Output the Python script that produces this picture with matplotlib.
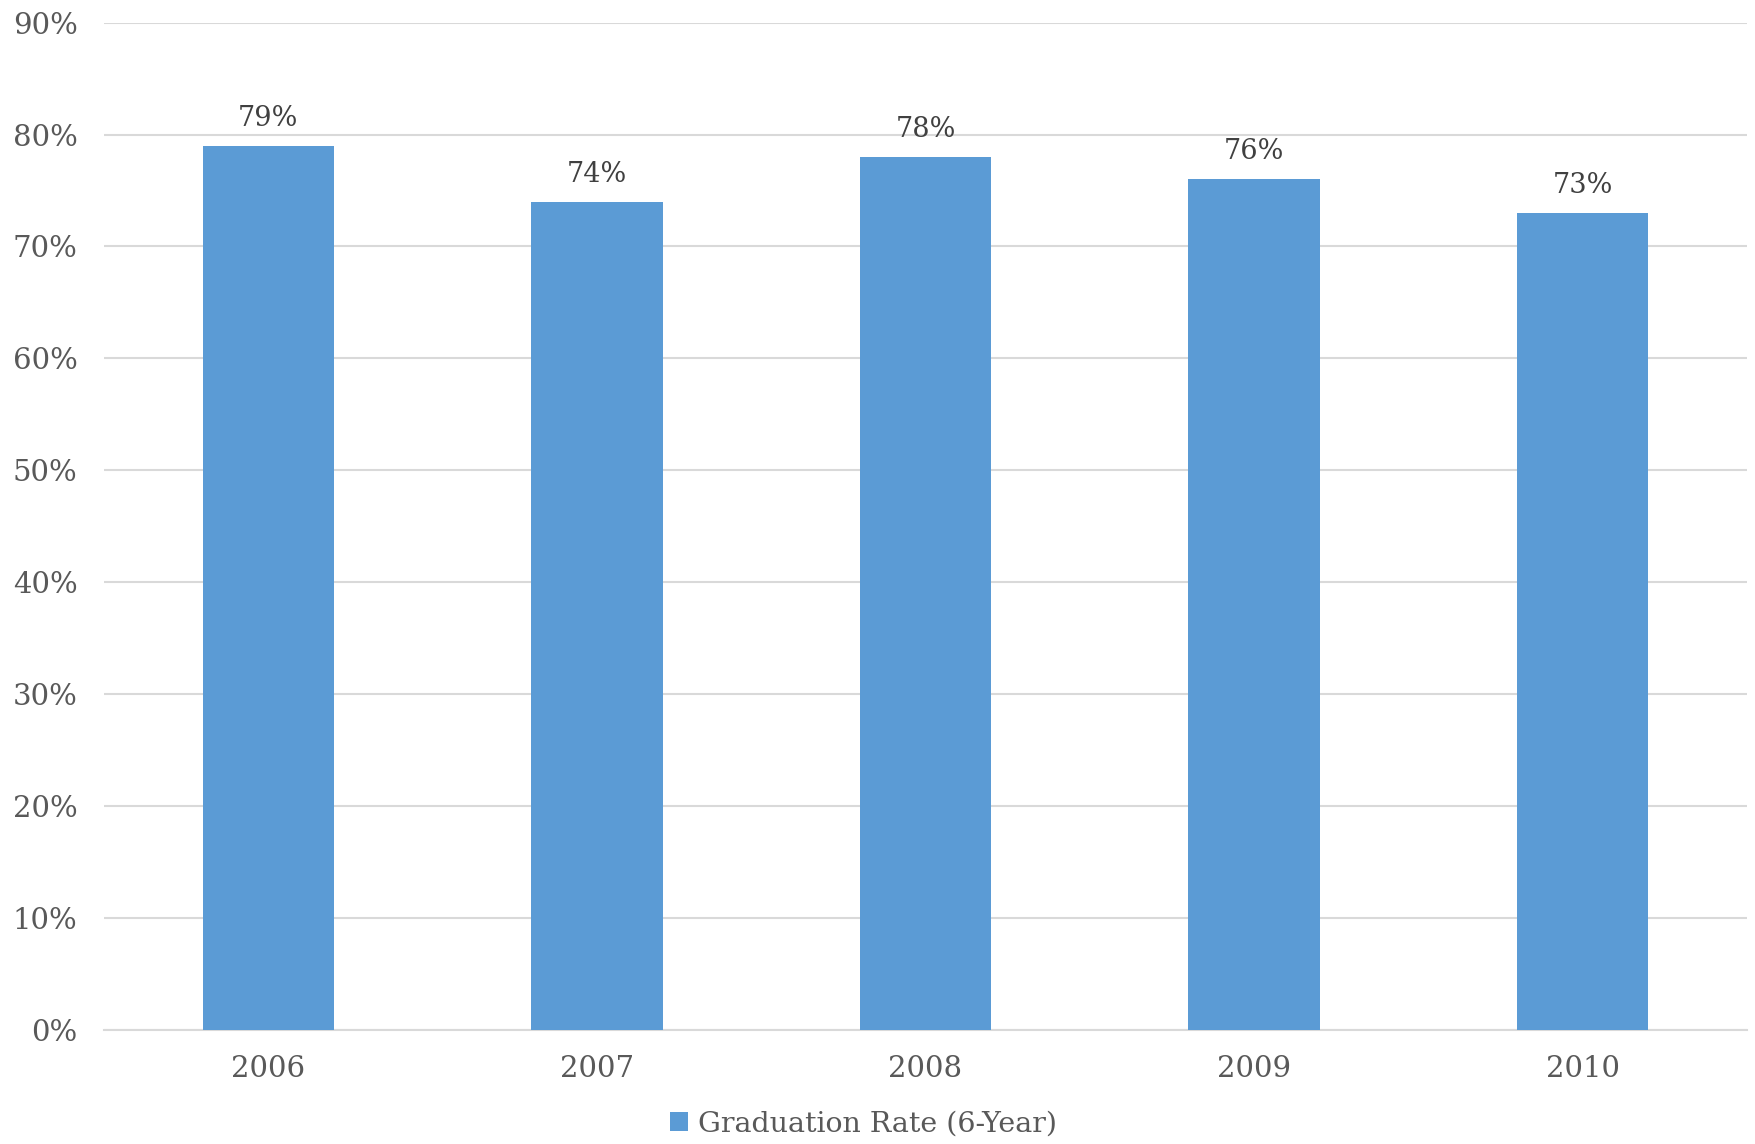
import matplotlib.pyplot as plt
from matplotlib.ticker import PercentFormatter

# Data
years = ['2006', '2007', '2008', '2009', '2010']
grad_rate = [79, 74, 78, 76, 73]

plt.rcParams['font.family'] = ['DejaVu Serif']

fig = plt.figure(figsize=(17.56, 11.44), dpi=100)
ax = fig.add_axes([0.0592, 0.0997, 0.9357, 0.8805])

bars = ax.bar(years, grad_rate, width=0.4, color='#5B9BD5',
              label='Graduation Rate (6-Year)', zorder=3)

# value labels above bars
for rect, v in zip(bars, grad_rate):
    ax.annotate(f'{v}%', (rect.get_x() + rect.get_width() / 2, v),
                xytext=(0, 10), textcoords='offset points',
                ha='center', va='bottom', fontsize=19.5, color='#404040')

ax.set_ylim(0, 90)
ax.set_xlim(-0.5, len(years) - 0.5)
ax.set_yticks(range(0, 91, 10))
ax.yaxis.set_major_formatter(PercentFormatter(decimals=0))
ax.grid(axis='y', color='#D9D9D9', linewidth=1.5, zorder=0)

for s in ['top', 'right', 'left']:
    ax.spines[s].set_visible(False)
ax.spines['bottom'].set_color('#D9D9D9')
ax.spines['bottom'].set_linewidth(1.5)

ax.tick_params(axis='both', length=0, labelsize=21, colors='#595959')
ax.tick_params(axis='y', pad=19)
ax.tick_params(axis='x', pad=18)

fig.legend(loc='center', bbox_to_anchor=(0.4917, 0.0175), frameon=False,
           fontsize=20.5, labelcolor='#595959', handlelength=0.65,
           handleheight=0.65, handletextpad=0.35)

fig.savefig('out.png', dpi=100)
